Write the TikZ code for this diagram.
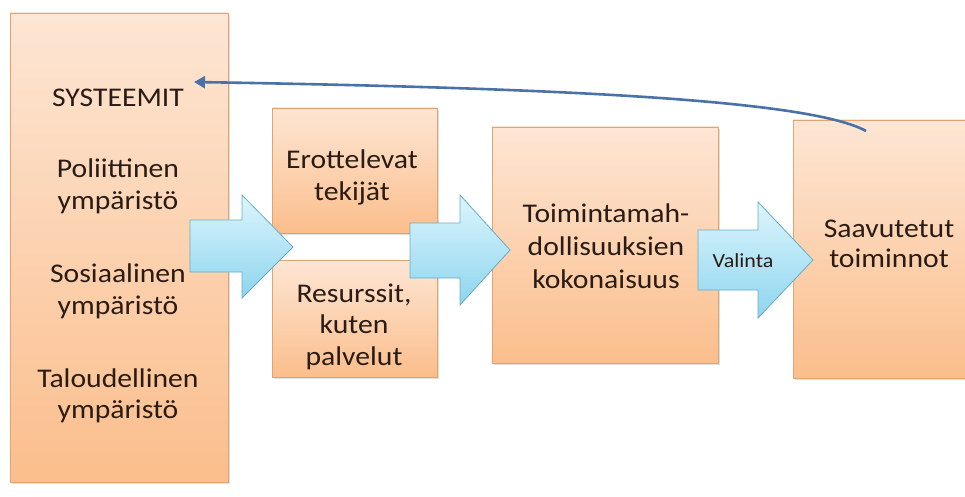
\documentclass[tikz,border=0pt]{standalone}
\usepackage{fontspec}
\setmainfont[FakeStretch=1.1]{Carlito}
\usetikzlibrary{shadows,arrows.meta}
\definecolor{boxtop}{HTML}{FDE6D4}
\definecolor{boxbot}{HTML}{FBBE8C}
\definecolor{boxedge}{HTML}{E0A470}
\definecolor{arrtop}{HTML}{DDF5FD}
\definecolor{arrbot}{HTML}{8DD5EE}
\definecolor{arredge}{HTML}{68ADC8}
\definecolor{curve}{HTML}{4A72A6}
\definecolor{ink}{HTML}{2A1C14}
\tikzset{
  box/.style={draw=boxedge, line width=0.8pt, top color=boxtop, bottom color=boxbot,
    drop shadow={shadow xshift=2pt, shadow yshift=-2pt, opacity=0.25}, inner sep=0pt},
  lbl/.style={anchor=base, text=ink, font=\fontsize{27}{32}\selectfont, inner sep=0pt},
  small/.style={anchor=base, text=ink, font=\fontsize{20}{24}\selectfont, inner sep=0pt},
  blockarrow/.style={draw=arredge, line width=0.8pt, top color=arrtop, bottom color=arrbot},
  fb/.style={draw=curve, line width=2.6pt, -{Triangle[length=11pt,width=12pt]}}
}
\begin{document}
\begin{tikzpicture}[x=1pt,y=-1pt]
\useasboundingbox[fill=white] (0,0) rectangle (965,497);
\begin{scope}
\clip (0,0) rectangle (965,497);
\node[box, minimum width=218pt, minimum height=469pt] (sys) at (119,247.5) {};
\node[box, minimum width=165pt, minimum height=125pt] (ero) at (354.5,170.5) {};
\node[box, minimum width=165pt, minimum height=117pt] (res) at (354.5,318.5) {};
\node[box, minimum width=226pt, minimum height=236pt] (toim) at (605,245) {};
\node[box, minimum width=190pt, minimum height=258pt] (saav) at (888,249) {};
% texts
\node[lbl] (t1) at (118,107) {SYSTEEMIT};
\node[lbl] (t2) at (118,177) {Poliittinen};
\node[lbl] (t3) at (118,209) {ympäristö};
\node[lbl] (t4) at (118,282) {Sosiaalinen};
\node[lbl] (t5) at (118,314) {ympäristö};
\node[lbl] (t6) at (118,387) {Taloudellinen};
\node[lbl] (t7) at (118,418) {ympäristö};
\node[lbl] (e1) at (352,168) {Erottelevat};
\node[lbl] (e2) at (352,200) {tekijät};
\node[lbl] (r1) at (354,302) {Resurssit,};
\node[lbl] (r2) at (354,333) {kuten};
\node[lbl] (r3) at (354,365) {palvelut};
\node[lbl] (k1) at (606,222) {Toimintamah-};
\node[lbl] (k2) at (606,255) {dollisuuksien};
\node[lbl] (k3) at (606,288) {kokonaisuus};
\node[lbl] (s1) at (889,237) {Saavutetut};
\node[lbl] (s2) at (889,267) {toiminnot};
% block arrows
\path[blockarrow] (190,220) -- (242,220) -- (242,195) -- (293,247) -- (242,298) -- (242,272) -- (190,272) -- cycle;
\path[blockarrow] (410,223) -- (460,223) -- (460,195) -- (510,250) -- (460,305) -- (460,278) -- (410,278) -- cycle;
\path[blockarrow] (698,230) -- (758,230) -- (758,202) -- (813,260) -- (758,318) -- (758,290) -- (698,290) -- cycle;
\node[small] (val) at (743,267) {Valinta};
% feedback arrow
\coordinate (fbstart) at (866,131);
\coordinate (fbend) at (194,82);
\draw[fb] (fbstart) .. controls (810,100) and (560,88) .. (fbend);
\end{scope}
\end{tikzpicture}
\end{document}
